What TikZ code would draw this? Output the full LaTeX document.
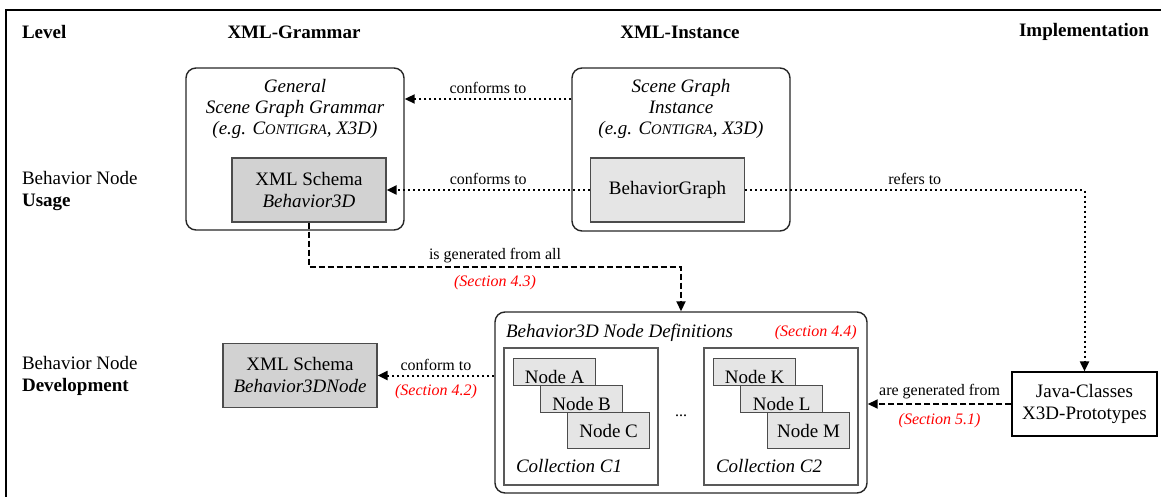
\documentclass[tikz,border=0pt]{standalone}
\usepackage{fontspec}
\setmainfont{Liberation Serif}
\usetikzlibrary{arrows.meta,positioning}

\newcommand{\bodysize}{\fontsize{9.5}{11}\selectfont}
\newcommand{\contigra}{C{\fontsize{7.3}{8}\selectfont ONTIGRA}}

\tikzset{
  head/.style={font=\bodysize\bfseries},
  boxtitle/.style={font=\fontsize{9.5}{10.4}\selectfont\itshape, align=center},
  rbox/.style={draw=black!85, line width=0.7pt, rounded corners=5pt},
  schemabox/.style={draw=black!70, fill=gray!35, line width=0.6pt, minimum width=77pt, minimum height=32pt, align=center},
  collbox/.style={draw=black!65, line width=0.7pt, minimum width=77pt, minimum height=68.5pt},
  elem/.style={draw=black!70, fill=gray!20, line width=0.6pt, minimum width=41pt, anchor=north west,
    inner ysep=1pt, text height=11.2pt, text depth=0.3pt},
  elemlast/.style={elem, inner ysep=0pt, text height=6.5pt, text depth=0pt, minimum height=18pt},
  lbl/.style={font=\fontsize{8}{9.6}\selectfont, inner sep=1.5pt},
  sec/.style={font=\fontsize{8}{9.6}\selectfont\itshape, text=red, inner sep=1.5pt},
  conf/.style={-{Triangle[length=5pt,width=4.5pt]}, line width=1pt, dash pattern=on 1pt off 1.5pt},
  gen/.style={-{Triangle[length=5pt,width=4.5pt]}, line width=0.9pt, dash pattern=on 3pt off 1.5pt}
}

\begin{document}
\begin{tikzpicture}[x=0.5pt,y=-0.5pt,font=\bodysize]
  \useasboundingbox (0,0) rectangle (1161,497);
  \draw[line width=1.1pt] (6,510) -- (6,10) -- (1170,10);

  % headings
  \node[head,anchor=west] (level) at (15,32) {Level};
  \node[head] (hgram) at (294,32) {XML-Grammar};
  \node[head] (hinst) at (680,32) {XML-Instance};
  \node[head] (himpl) at (1084,32) {Implementation};
  \node[anchor=west,align=left] (usage) at (15,191) {Behavior Node\\\textbf{Usage}};
  \node[anchor=west,align=left] (devel) at (15,375.5) {Behavior Node\\\textbf{Development}};

  % usage level
  \node[rbox,minimum width=109pt,minimum height=81pt] (grammar) at (295,149) {};
  \node[boxtitle] (gramtitle) at (295,109) {General\\Scene Graph Grammar\\(e.g. \contigra, X3D)};
  \node[schemabox] (schemaU) at (309,190) {XML Schema\\\textit{Behavior3D}};
  \node[rbox,minimum width=109pt,minimum height=81.5pt] (instance) at (681,149.5) {};
  \node[boxtitle] (insttitle) at (681,109) {Scene Graph\\Instance\\(e.g. \contigra, X3D)};
  \node[schemabox,fill=gray!20] (bgraph) at (667.5,190) {BehaviorGraph};

  % development level
  \node[schemabox] (schemaD) at (300,375.5) {XML Schema\\\textit{Behavior3DNode}};
  \node[rbox,minimum width=186pt,minimum height=90.5pt] (defs) at (681,402.5) {};
  \node[font=\bodysize\itshape,anchor=west] (deftitle) at (499,333) {Behavior3D Node Definitions};
  \node[sec,anchor=east] (sec44) at (860,333) {(Section 4.4)};
  \node[collbox] (coll1) at (581,416.5) {};
  \node[collbox] (coll2) at (781,416.5) {};
  \node[elem] (nodeA) at (513,358) {Node A};
  \node[elem] (nodeB) at (540,385) {Node B};
  \node[elemlast] (nodeC) at (567,412) {Node C};
  \node[elem] (nodeK) at (713,358) {Node K};
  \node[elem] (nodeL) at (740,385) {Node L};
  \node[elemlast] (nodeM) at (767,412) {Node M};
  \node[font=\bodysize\itshape,anchor=west] (c1name) at (509,466) {Collection C1};
  \node[font=\bodysize\itshape,anchor=west] (c2name) at (709,466) {Collection C2};
  \node[lbl] (more) at (681,416) {...};
  \node[draw,line width=0.6pt,minimum width=72.5pt,minimum height=32pt,align=center] (java) at (1084.5,404) {Java-Classes\\X3D-Prototypes};

  % connectors
  \draw[conf] ([yshift=25.25pt]instance.west) -- node[lbl,above=0.5pt] (lconf1) {conforms to} ([yshift=25pt]grammar.east);
  \draw[conf] (bgraph.west) -- node[lbl,above=0.5pt] (lconf2) {conforms to} (schemaU.east);
  \draw[conf] (bgraph.east) -| node[lbl,above=0.5pt,pos=0.25] (lref) {refers to} (java.north);
  \coordinate (gbend) at (495,267);
  \draw[gen] (schemaU.south) |- (gbend) -| (defs.north);
  \node[lbl,above=0.3pt] (lgen) at (gbend) {is generated from all};
  \node[sec,below=2.4pt] (sec43) at (gbend) {(Section 4.3)};
  \draw[conf] (defs.west |- schemaD.east) -- node[lbl,above=0.5pt] (lconfd) {conform to}
    node[sec,below=2.3pt] (sec42) {(Section 4.2)} (schemaD.east);
  \draw[gen] (java.west) -- node[lbl,above=0.5pt] (lgenj) {are generated from}
    node[sec,below=2.6pt] (sec51) {(Section 5.1)} (defs.east |- java.west);
\end{tikzpicture}
\end{document}
